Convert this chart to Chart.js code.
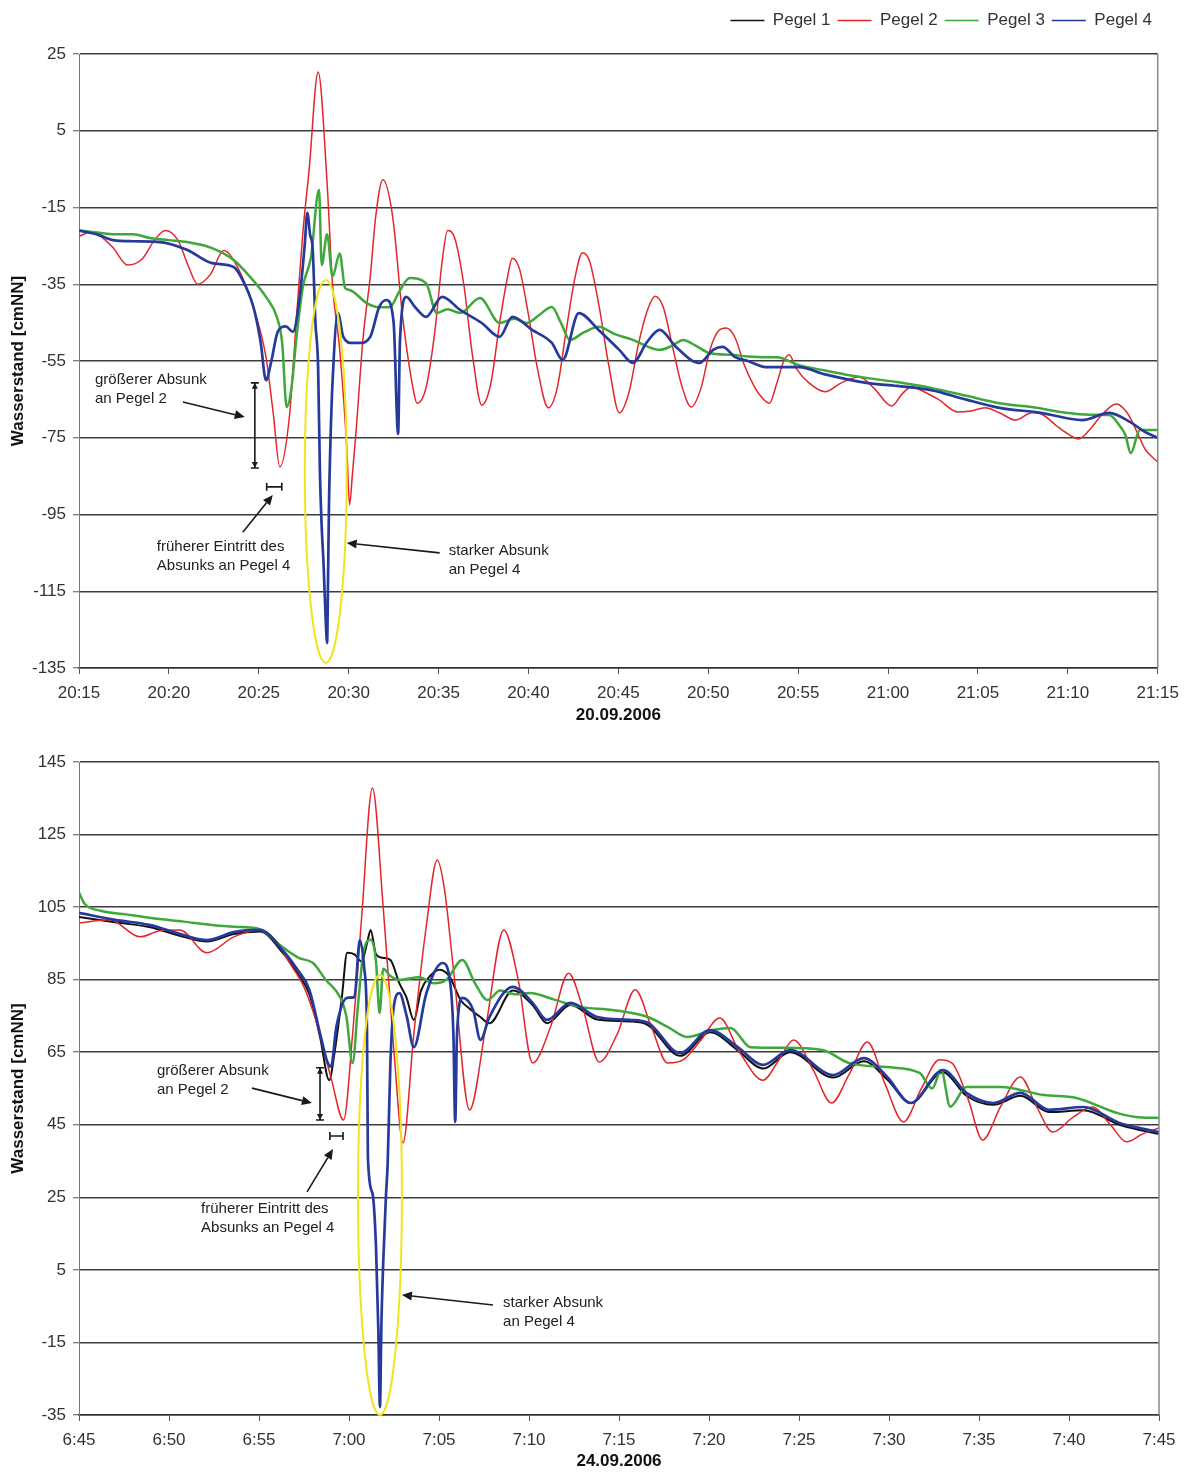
<!DOCTYPE html>
<html lang="de">
<head>
    <meta charset="UTF-8">
    <title>Wasserstand Pegel 1-4</title>
    <script src="https://cdn.jsdelivr.net/npm/chart.js"></script>
    <style>
        body { margin: 0; background: #fff; }
        .panel { position: absolute; left: 0; width: 1188px; }
        #topPanel { top: 0; height: 740px; }
        #bottomPanel { top: 740px; height: 732px; }
    </style>
</head>
<body>
    <div class="panel" id="topPanel"><canvas id="chartTop" width="1188" height="740"></canvas></div>
    <div class="panel" id="bottomPanel"><canvas id="chartBottom" width="1188" height="732"></canvas></div>

    <script>
        const seriesNames = ['Pegel 1', 'Pegel 2', 'Pegel 3', 'Pegel 4'];
        const seriesColors = ['#111111', '#e3262b', '#3ea83a', '#263a9c'];

        // 20.09.2006 - minutes after 20:15
        const topStart = 20 * 60 + 15;
        const topP1Time = [];
        const topP1Level = [];
        const topP2Time = [0, 0.6, 1.2, 1.9, 2.7, 3.5, 4.2, 4.8, 5.5, 6.1, 6.6, 7.3, 8.05, 8.9, 9.7, 10.4, 10.8, 11.17, 11.7, 12.1, 12.45, 12.8, 13.3, 13.8, 14.1, 14.5, 14.9, 15.05, 15.2, 15.4, 15.8, 16.2, 16.5, 16.9, 17.45, 18.0, 18.6, 18.8, 19.3, 19.8, 20.2, 20.5, 20.9, 21.4, 21.9, 22.4, 22.9, 23.4, 23.8, 24.1, 24.5, 25.0, 25.5, 26.1, 26.6, 27.1, 27.6, 28.0, 28.4, 28.9, 29.5, 30.05, 30.6, 31.1, 31.6, 32.05, 32.5, 33.0, 33.5, 34.05, 34.6, 35.1, 35.6, 36.0, 36.5, 37.0, 37.6, 38.0, 38.4, 38.8, 39.2, 39.5, 39.9, 40.6, 41.5, 42.4, 43.4, 44.2, 45.2, 45.8, 46.3, 47.0, 47.8, 48.9, 49.6, 50.4, 51.2, 52.1, 53.0, 53.6, 54.4, 55.0, 55.6, 56.2, 56.9, 57.7, 58.3, 58.8, 59.3, 60];
        const topP2Level = [-22.5, -21.5, -22.5, -25.5, -30, -28.5, -23.5, -21, -23.5, -30.5, -35, -32.5, -26.2, -31.3, -41, -54, -68.5, -82.6, -69.6, -43.5, -21.6, -5.2, 20.3, -8.6, -35, -52, -78, -92.5, -85, -74, -49, -33, -17.5, -7.8, -17.5, -43.5, -62.6, -66, -62, -47, -29, -21, -23, -35, -54, -66.5, -61, -45, -34, -28.2, -31, -43, -57, -67.2, -62, -47, -33, -26.8, -29, -40, -57, -68.5, -63, -51, -42, -38.1, -41, -51, -61, -67, -62, -52, -47, -46.4, -49, -56, -62, -64.6, -66, -61, -55, -53.4, -57, -60.7, -63, -60.7, -59.2, -62, -66.7, -63.5, -61.8, -63, -65, -68.3, -68, -67.2, -68.5, -70.4, -68.5, -69, -72, -74, -75.3, -73, -69, -66.2, -68.5, -73, -78, -81.3];
        const topP3Time = [0, 1, 2, 3, 4, 5, 6, 7.4, 8.6, 9.5, 10.4, 11.0, 11.3, 11.55, 11.8, 12.1, 12.45, 12.9, 13.35, 13.5, 13.8, 14.1, 14.5, 14.8, 15.05, 16.0, 16.7, 17.3, 17.8, 18.4, 19.3, 19.9, 20.5, 21.2, 22.3, 23.4, 24.2, 24.9, 25.6, 26.3, 26.8, 27.3, 28.1, 28.9, 29.8, 30.8, 31.5, 32.3, 33.0, 33.6, 34.3, 35.05, 36.3, 37.2, 38.2, 38.8, 40.0, 41.5, 42.6, 43.8, 45.5, 47.4, 49.3, 51.2, 53.0, 54.9, 56.2, 57.3, 57.9, 58.2, 58.5, 59.0, 59.5, 60];
        const topP3Level = [-21, -21.5, -22, -22, -23, -23.5, -24, -25.6, -28.7, -33, -38.3, -43.5, -50.3, -67, -62.6, -48.7, -35.7, -28, -10.4, -30, -22, -33, -27, -36, -36.5, -39.9, -41, -40.9, -37, -33.4, -34.7, -42.5, -41.5, -42.5, -38.6, -45.1, -44, -45.1, -43, -40.9, -45, -49.5, -47.5, -46.1, -48, -49.5, -51, -52.1, -51, -49.5, -51, -52.9, -53.4, -53.8, -54, -54, -56, -57.5, -58.5, -59.4, -60.5, -62, -64, -66, -67, -68.5, -69, -69.1, -72, -74.3, -79, -73, -73, -73];
        const topP4Time = [0, 1, 1.9, 3, 4.5, 6, 7.4, 8.6, 9.0, 9.7, 10.1, 10.4, 10.7, 11.05, 11.5, 11.9, 12.3, 12.55, 12.7, 12.85, 13.0, 13.15, 13.3, 13.4, 13.5, 13.6, 13.7, 13.8, 13.85, 13.9, 14.0, 14.1, 14.4, 14.7, 15.2, 15.6, 16.2, 16.7, 17.1, 17.5, 17.75, 17.85, 18.2, 18.7, 19.3, 20.2, 21.2, 22.4, 23.4, 24.1, 25.2, 26.3, 26.9, 27.8, 28.9, 30.05, 30.8, 31.6, 32.3, 33.2, 34.5, 35.3, 35.8, 36.5, 37.2, 38.2, 40.05, 41.5, 43.8, 45.5, 47.4, 49.3, 51.2, 53.5, 55.8, 57.3, 58.5, 59.3, 60];
        const topP4Level = [-21, -22, -23.5, -23.8, -24, -26, -29.5, -30.5, -33, -40.9, -50, -60, -55, -47.4, -46, -47.4, -37.3, -25, -16.4, -22, -26, -45, -56.6, -84, -98.3, -107.6, -119.9, -128.5, -112.8, -93.8, -73.8, -60.7, -42.5, -48.7, -50.3, -50.3, -48.7, -40.9, -39.1, -45, -74, -50, -38.3, -41, -43.5, -38.3, -41.7, -45.1, -48.7, -43.5, -46.9, -50.3, -54.7, -42.5, -46.9, -52.1, -55.5, -50, -46.9, -51.3, -55.5, -52, -51.3, -54, -55, -56.6, -56.6, -58.5, -60.7, -61.5, -62.6, -65, -67.2, -68.5, -70.4, -68.5, -71, -73.5, -75];

        // 24.09.2006 - minutes after 6:45
        const bottomStart = 6 * 60 + 45;
        const bottomP1Time = [0, 2, 3.9, 5.8, 7.1, 8.6, 10.05, 11.3, 12.1, 12.8, 13.4, 13.9, 14.2, 14.6, 14.9, 15.3, 15.7, 16.0, 16.2, 16.5, 16.9, 17.3, 17.8, 18.2, 18.6, 19.0, 19.5, 20.05, 20.6, 21.2, 21.7, 22.3, 22.8, 24.1, 25.2, 26.0, 27.3, 28.8, 30.6, 31.6, 33.4, 35.05, 36.6, 38.0, 39.5, 41.9, 43.6, 44.9, 46.2, 48.0, 49.3, 50.8, 52.3, 53.9, 55.8, 57.8, 59, 60];
        const bottomP1Level = [102.3, 100.8, 99.5, 96.8, 95.5, 97.6, 98.3, 92.5, 87, 81, 69, 57.3, 65, 80, 92.4, 92, 90, 95, 98.7, 92, 91, 90.4, 84, 80, 73.9, 82, 86, 87.7, 85.7, 79.4, 77, 74.7, 73, 82, 78, 73, 78, 74, 73.5, 72.5, 64, 70.5, 65.5, 60.5, 65, 58, 62.5, 57.5, 51, 59.5, 53, 50.5, 53, 48.5, 49, 45, 43.5, 42.5];
        const bottomP2Time = [0, 1.7, 3.4, 4.5, 5.6, 7.1, 8.6, 10.05, 10.9, 11.7, 12.5, 13.2, 14.0, 14.7, 15.2, 15.7, 16.3, 16.9, 17.5, 18.0, 18.6, 19.3, 19.9, 20.3, 20.8, 21.7, 22.6, 23.6, 24.4, 25.2, 26.2, 27.2, 28.0, 28.9, 29.9, 30.9, 31.8, 32.7, 33.6, 34.5, 35.6, 36.7, 38.0, 38.9, 39.7, 40.8, 41.8, 42.8, 43.8, 44.8, 45.8, 46.8, 47.8, 48.5, 49.4, 50.2, 51.2, 52.3, 53.2, 54.1, 55.2, 56.3, 57.3, 58.2, 59.1, 60];
        const bottomP2Level = [100.6, 101.5, 96.8, 98.5, 98.7, 92.4, 96.8, 98.7, 96, 89.6, 83, 73.1, 58, 46.3, 70, 102, 137.8, 105, 65, 40, 70, 100, 118, 110, 88, 49.1, 72, 98.7, 85, 62, 72, 86.8, 77, 62.3, 70, 82.2, 72, 62, 63, 68, 74.4, 65, 57.3, 63, 68.4, 60, 51, 59, 67.8, 56, 45.8, 55, 62.9, 62, 52, 40.8, 50, 58.2, 50, 43, 47, 49.9, 45, 40.3, 42.5, 44.1];
        const bottomP3Time = [0, 0.3, 1.2, 2.6, 4, 5.8, 7.5, 9, 10, 11.3, 12.2, 13.0, 13.7, 14.5, 14.85, 15.2, 15.5, 15.8, 16.2, 16.5, 16.7, 16.9, 17.3, 17.8, 18.9, 19.7, 20.4, 21.3, 22.0, 22.7, 23.4, 24.2, 25.05, 26.4, 27.8, 29.7, 31.6, 32.7, 33.8, 35.2, 36.2, 37.3, 39.1, 41.3, 42.8, 44.9, 46.7, 47.4, 47.9, 48.4, 49.3, 51.2, 53.6, 55.4, 57.7, 59, 60];
        const bottomP3Level = [109, 106, 104, 103, 102, 101, 100, 99.5, 99, 94, 91, 89.6, 85, 80.2, 75, 62, 78, 92.4, 96, 90, 75.8, 88, 86, 84.9, 85.7, 84, 84.9, 90.4, 84, 79.4, 82, 81, 81.3, 79.5, 77.5, 76.6, 74.7, 72, 69.2, 71.1, 71.7, 66.4, 66.2, 65.6, 62, 60.9, 59.3, 55, 60, 50, 55.4, 55.4, 53.2, 52.4, 48.2, 47, 46.9];
        const bottomP4Time = [0, 2, 3.9, 5.8, 7.1, 8.6, 10.05, 11.3, 12.1, 12.8, 13.4, 13.8, 14.0, 14.3, 14.9, 15.3, 15.6, 15.85, 16.0, 16.05, 16.3, 16.5, 16.63, 16.72, 16.8, 16.9, 17.05, 17.15, 17.3, 17.5, 17.8, 18.2, 18.6, 19.3, 20.2, 20.6, 20.8, 20.9, 21.0, 21.3, 21.9, 22.3, 22.8, 24.1, 25.2, 26.0, 27.3, 28.8, 30.6, 31.6, 33.4, 35.05, 36.6, 38.0, 39.5, 41.9, 43.6, 44.9, 46.2, 48.0, 49.3, 50.8, 52.3, 53.9, 55.8, 57.8, 59, 60];
        const bottomP4Level = [103.4, 101.5, 100.1, 97.3, 95.9, 98.1, 98.7, 93.2, 88, 82.2, 70, 62.3, 61, 72, 80, 80.2, 95.9, 88, 71.1, 36, 26.2, 11.3, -11.6, -32.8, -10, 6.9, 25.1, 34.5, 62, 78, 81.3, 75, 66.4, 81.3, 89.6, 85, 70, 45.8, 70, 80, 76.6, 68.4, 74.7, 83, 78.6, 73.9, 78.6, 74.7, 73.9, 73.1, 64.8, 71.1, 66.4, 61.5, 65.6, 58.7, 63.4, 58.2, 51, 60.1, 53.8, 51, 53.8, 49.1, 49.9, 45.5, 44, 43];

        // annotations, anchored in data units (minutes / cmNN)
        const topNotes = [
            { kind: 'text', x: 0.89, y: -60.0, lines: ['größerer Absunk', 'an Pegel 2'] },
            { kind: 'arrow', from: [5.78, -65.7], to: [9.22, -69.6] },
            { kind: 'vspan', x: 9.78, y1: -60.7, y2: -82.9 },
            { kind: 'hspan', y: -87.8, x1: 10.44, x2: 11.28 },
            { kind: 'arrow', from: [9.11, -99.6], to: [10.78, -89.9] },
            { kind: 'text', x: 4.33, y: -103.5, lines: ['früherer Eintritt des', 'Absunks an Pegel 4'] },
            { kind: 'arrow', from: [20.06, -105.0], to: [14.89, -102.4] },
            { kind: 'text', x: 20.56, y: -104.5, lines: ['starker Absunk', 'an Pegel 4'] },
            { kind: 'ellipse', x1: 12.56, x2: 14.89, y1: -33.9, y2: -133.7 }
        ];
        const bottomNotes = [
            { kind: 'text', x: 4.33, y: 59.8, lines: ['größerer Absunk', 'an Pegel 2'] },
            { kind: 'arrow', from: [9.61, 55.1], to: [12.94, 51.0] },
            { kind: 'vspan', x: 13.39, y1: 60.7, y2: 46.3 },
            { kind: 'hspan', y: 41.9, x1: 13.94, x2: 14.67 },
            { kind: 'arrow', from: [12.67, 26.5], to: [14.11, 38.3] },
            { kind: 'text', x: 6.78, y: 21.8, lines: ['früherer Eintritt des', 'Absunks an Pegel 4'] },
            { kind: 'arrow', from: [23.0, -4.7], to: [17.94, -1.9] },
            { kind: 'text', x: 23.56, y: -4.1, lines: ['starker Absunk', 'an Pegel 4'] },
            { kind: 'ellipse', x1: 15.5, x2: 17.94, y1: 86.3, y2: -35.0 }
        ];

        Chart.defaults.font.family = '"Liberation Sans", Arial, sans-serif';
        Chart.defaults.color = '#333';

        const lineWidths = [2, 1.5, 2.5, 2.7];
        const drawOrder = [3, 2, 1, 0];

        function clock(m) {
            return Math.floor(m / 60) + ':' + String(Math.round(m % 60)).padStart(2, '0');
        }

        function makeDatasets(times, levels) {
            return seriesNames.map((name, i) => ({
                label: name,
                data: times[i].map((t, k) => ({ x: t, y: levels[i][k] })),
                borderColor: seriesColors[i],
                backgroundColor: seriesColors[i],
                borderWidth: lineWidths[i],
                pointRadius: 0,
                cubicInterpolationMode: 'monotone',
                order: drawOrder[i]
            }));
        }

        function arrowHead(ctx, x1, y1, x2, y2, len, half) {
            const a = Math.atan2(y2 - y1, x2 - x1);
            const bx = x2 - len * Math.cos(a), by = y2 - len * Math.sin(a);
            ctx.beginPath();
            ctx.moveTo(x2, y2);
            ctx.lineTo(bx + half * Math.sin(a), by - half * Math.cos(a));
            ctx.lineTo(bx - half * Math.sin(a), by + half * Math.cos(a));
            ctx.closePath();
            ctx.fill();
            return [bx, by];
        }

        function notesPlugin(notes) {
            return {
                id: 'notes',
                afterDatasetsDraw(chart) {
                    const { ctx, chartArea, scales } = chart;
                    const px = v => scales.x.getPixelForValue(v);
                    const py = v => scales.y.getPixelForValue(v);
                    ctx.save();
                    // right frame line
                    ctx.strokeStyle = '#888';
                    ctx.lineWidth = 1.5;
                    ctx.beginPath();
                    ctx.moveTo(chartArea.right, chartArea.top);
                    ctx.lineTo(chartArea.right, chartArea.bottom);
                    ctx.stroke();

                    ctx.strokeStyle = '#1a1a1a';
                    ctx.fillStyle = '#1a1a1a';
                    ctx.lineWidth = 1.6;
                    notes.forEach(n => {
                        if (n.kind === 'text') {
                            ctx.font = '15px "Liberation Sans", Arial, sans-serif';
                            ctx.textAlign = 'left';
                            ctx.textBaseline = 'middle';
                            ctx.fillStyle = '#222';
                            n.lines.forEach((s, i) => ctx.fillText(s, px(n.x), py(n.y) + i * 18.5));
                            ctx.fillStyle = '#1a1a1a';
                        } else if (n.kind === 'arrow') {
                            const x1 = px(n.from[0]), y1 = py(n.from[1]);
                            const x2 = px(n.to[0]), y2 = py(n.to[1]);
                            const [bx, by] = arrowHead(ctx, x1, y1, x2, y2, 10, 4.5);
                            ctx.beginPath();
                            ctx.moveTo(x1, y1);
                            ctx.lineTo(bx, by);
                            ctx.stroke();
                        } else if (n.kind === 'vspan') {
                            const x = px(n.x), y1 = py(n.y1), y2 = py(n.y2);
                            ctx.beginPath();
                            ctx.moveTo(x, y1); ctx.lineTo(x, y2);
                            ctx.moveTo(x - 4, y1); ctx.lineTo(x + 4, y1);
                            ctx.moveTo(x - 4, y2); ctx.lineTo(x + 4, y2);
                            ctx.stroke();
                            arrowHead(ctx, x, y1 + 8, x, y1, 6, 3);
                            arrowHead(ctx, x, y2 - 8, x, y2, 6, 3);
                        } else if (n.kind === 'hspan') {
                            const y = py(n.y), x1 = px(n.x1), x2 = px(n.x2);
                            ctx.beginPath();
                            ctx.moveTo(x1, y); ctx.lineTo(x2, y);
                            ctx.moveTo(x1, y - 4); ctx.lineTo(x1, y + 4);
                            ctx.moveTo(x2, y - 4); ctx.lineTo(x2, y + 4);
                            ctx.stroke();
                        } else if (n.kind === 'ellipse') {
                            const x1 = px(n.x1), x2 = px(n.x2), y1 = py(n.y1), y2 = py(n.y2);
                            ctx.strokeStyle = '#f2e41c';
                            ctx.lineWidth = 2;
                            ctx.beginPath();
                            ctx.ellipse((x1 + x2) / 2, (y1 + y2) / 2, Math.abs(x2 - x1) / 2, Math.abs(y2 - y1) / 2, 0, 0, Math.PI * 2);
                            ctx.stroke();
                            ctx.strokeStyle = '#1a1a1a';
                            ctx.lineWidth = 1.6;
                        }
                    });
                    ctx.restore();
                }
            };
        }

        function makeOptions(start, yMin, yMax, dateLabel, withLegend, padding, xHeight, titleGap) {
            const scales = {
                x: {
                    type: 'linear',
                    min: 0,
                    max: 60,
                    afterFit: s => { s.height = xHeight; },
                    ticks: { stepSize: 5, autoSkip: false, maxRotation: 0, padding: 9, font: { size: 17 }, color: '#333', callback: v => clock(start + v) },
                    grid: { drawOnChartArea: false, drawTicks: true, tickLength: 6, color: '#555' },
                    border: { color: '#333', width: 1.5 },
                    title: { display: true, text: dateLabel, font: { size: 17, weight: 'bold' }, color: '#111', padding: { top: 0, bottom: titleGap } }
                },
                y: {
                    min: yMin,
                    max: yMax,
                    afterFit: s => { s.width = 79; },
                    ticks: { stepSize: 20, padding: 7, font: { size: 17 }, color: '#333' },
                    grid: { color: '#3c3c3c', lineWidth: 1.5, tickLength: 6, tickColor: '#555', tickWidth: 1 },
                    border: { color: '#777', width: 1 },
                    title: { display: true, text: 'Wasserstand [cmNN]', font: { size: 17, weight: 'bold' }, color: '#111', padding: { top: 8, bottom: 0 } }
                }
            };
            if (withLegend) {
                // empty band between legend and plot
                scales.gap = {
                    type: 'linear', axis: 'x', position: 'top', display: true,
                    afterFit: s => { s.height = 15; },
                    ticks: { display: false }, grid: { display: false }, border: { display: false }
                };
            }
            return {
                responsive: false,
                devicePixelRatio: 1,
                animation: false,
                layout: { padding: padding },
                scales: scales,
                plugins: {
                    legend: {
                        display: withLegend,
                        position: 'top',
                        align: 'end',
                        labels: {
                            usePointStyle: true,
                            pointStyle: 'line',
                            pointStyleWidth: 34,
                            padding: 7,
                            color: '#333',
                            font: { size: 17 },
                            sort: (a, b) => a.datasetIndex - b.datasetIndex,
                            generateLabels: chart => Chart.defaults.plugins.legend.labels.generateLabels(chart)
                                .map(item => Object.assign(item, { lineWidth: 1.5 }))
                        }
                    },
                    tooltip: { enabled: false }
                }
            };
        }

        new Chart(document.getElementById('chartTop'), {
            type: 'line',
            data: {
                datasets: makeDatasets(
                    [topP1Time, topP2Time, topP3Time, topP4Time],
                    [topP1Level, topP2Level, topP3Level, topP4Level])
            },
            options: makeOptions(topStart, -135, 25, '20.09.2006', true, { top: 5, right: 29, bottom: 12, left: 0 }, 60, 2),
            plugins: [notesPlugin(topNotes)]
        });

        new Chart(document.getElementById('chartBottom'), {
            type: 'line',
            data: {
                datasets: makeDatasets(
                    [bottomP1Time, bottomP2Time, bottomP3Time, bottomP4Time],
                    [bottomP1Level, bottomP2Level, bottomP3Level, bottomP4Level])
            },
            options: makeOptions(bottomStart, -35, 145, '24.09.2006', false, { top: 22, right: 29, bottom: 0, left: 0 }, 57, 0),
            plugins: [notesPlugin(bottomNotes)]
        });
    </script>
</body>
</html>
